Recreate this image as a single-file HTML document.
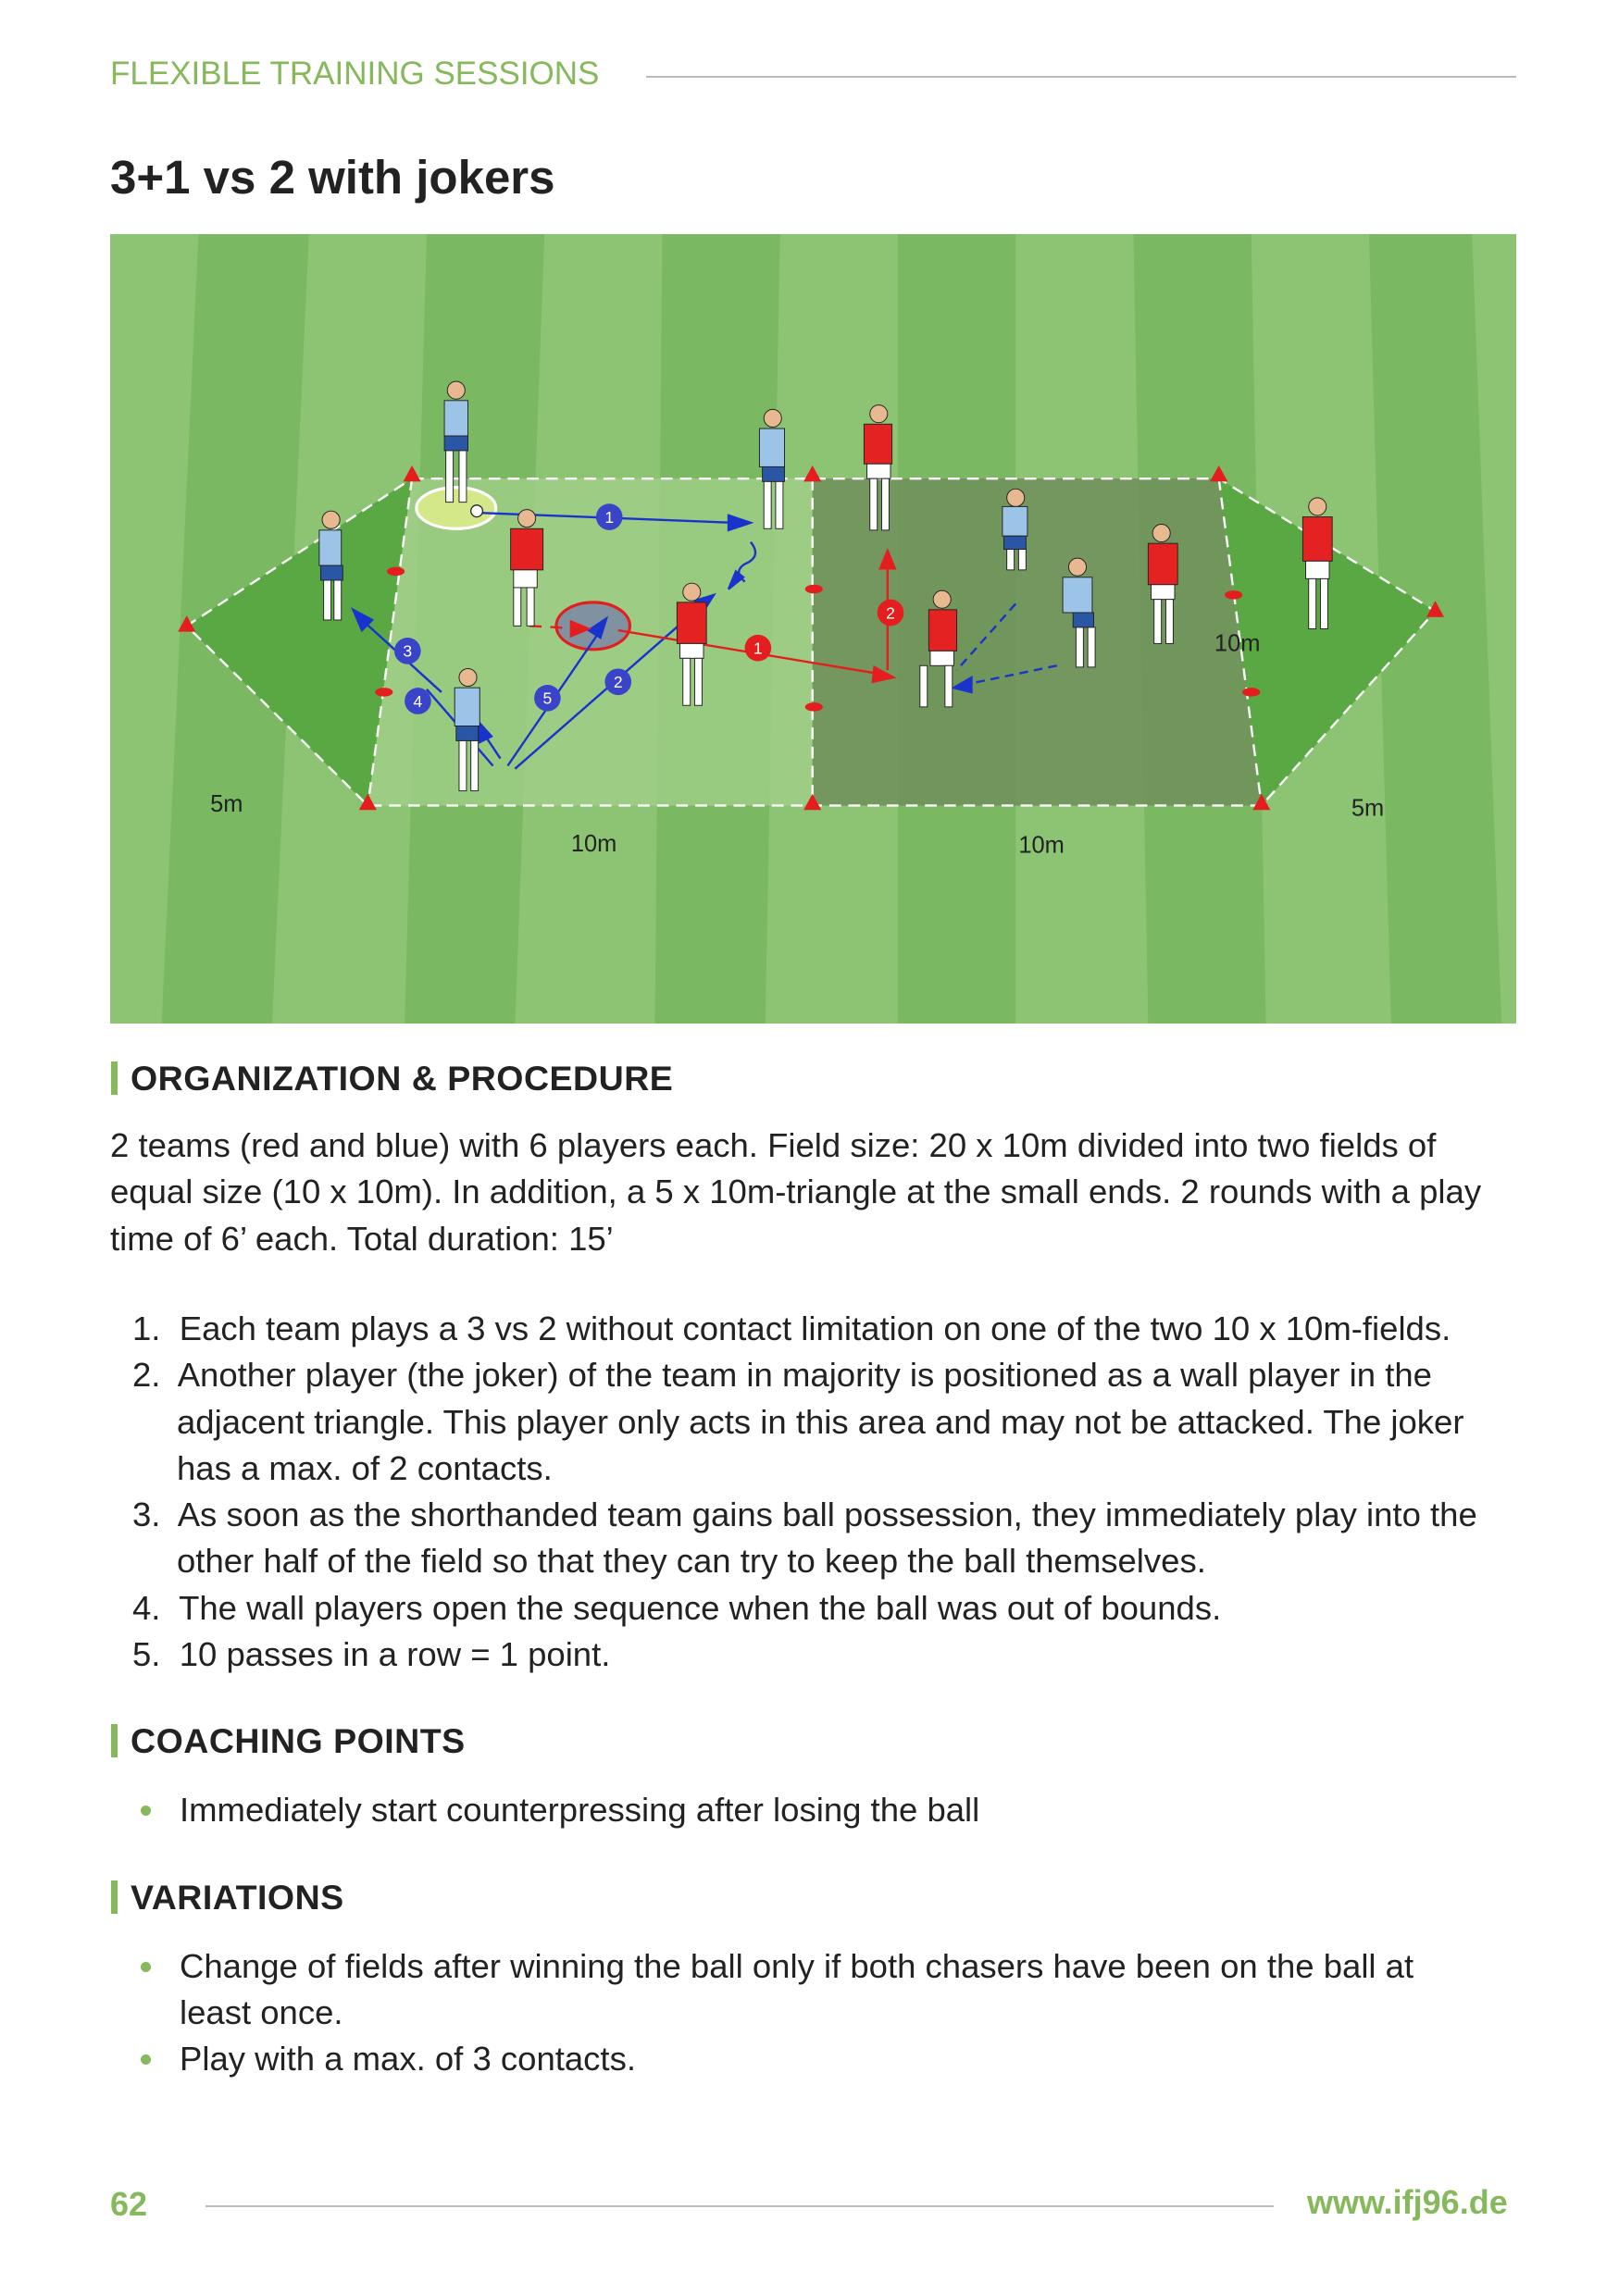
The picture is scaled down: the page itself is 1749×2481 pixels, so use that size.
<!DOCTYPE html>
<html><head><meta charset="utf-8"><style>
body{margin:0;background:#fff;width:1749px;height:2481px;position:relative;font-family:"Liberation Sans",sans-serif;color:#222;overflow:hidden}
.a{position:absolute;white-space:nowrap}
.hd{color:#86b85c;font-size:37px;font-weight:bold}
.h2{font-size:37.5px;font-weight:bold;letter-spacing:0.5px;padding-left:14px;border-left:7px solid #86b85c;line-height:36px}
.p{font-size:36.5px;line-height:50.3px}
.dot{display:inline-block;width:11px;height:11px;border-radius:50%;background:#86b85c;position:absolute;left:-42px;top:20px}
</style></head><body>
<div class="a hd" style="left:119px;top:60px;font-weight:normal;font-size:35px">FLEXIBLE TRAINING SESSIONS</div>
<div class="a" style="left:698px;top:82px;width:940px;height:2px;background:#bbb"></div>
<div class="a" style="left:119px;top:162px;font-size:51px;font-weight:bold">3+1 vs 2 with jokers</div>

<svg class="a" style="left:119px;top:253px" width="1519" height="853" viewBox="75 159 955 536" preserveAspectRatio="none">
<rect x="75" y="159" width="955" height="536" fill="#7ab862"/>
<g fill="#8cc473">
<polygon points="75,159 135,159 110,695 75,695"/>
<polygon points="210,159 290,159 275,695 185,695"/>
<polygon points="370,159 450,159 445,695 350,695"/>
<polygon points="530,159 610,159 610,695 520,695"/>
<polygon points="690,159 770,159 780,695 690,695"/>
<polygon points="850,159 930,159 945,695 860,695"/>
<polygon points="1000,159 1030,159 1030,695 1020,695"/>
</g>
<polygon points="280,325 552,325 552,547 250,547" fill="#a3d08a" opacity="0.75"/>
<polygon points="552,325 828,325 857,547 552,547" fill="#6f8f5c" opacity="0.85"/>
<polygon points="280,325 127,425 250,547" fill="#5aa843"/>
<polygon points="828,325 975,415 857,547" fill="#5aa843"/>
<g fill="none" stroke="#fff" stroke-width="1.5" stroke-dasharray="8,5">
<polygon points="280,325 828,325 975,415 857,547 250,547 127,425"/>
<line x1="280" y1="325" x2="250" y2="547"/><line x1="552" y1="325" x2="552" y2="547"/><line x1="828" y1="325" x2="857" y2="547"/>
</g>
<g fill="#e41e1e">
<polygon points="280,316 274,327 286,327"/><polygon points="552,316 546,327 558,327"/><polygon points="828,316 822,327 834,327"/>
<polygon points="127,418 121,429 133,429"/><polygon points="975,408 969,419 981,419"/>
<polygon points="250,539 244,550 256,550"/><polygon points="552,539 546,550 558,550"/><polygon points="857,539 851,550 863,550"/>
<ellipse cx="269" cy="388" rx="6" ry="3"/><ellipse cx="261" cy="470" rx="6" ry="3"/><ellipse cx="553" cy="400" rx="6" ry="3"/><ellipse cx="553" cy="480" rx="6" ry="3"/><ellipse cx="838" cy="404" rx="6" ry="3"/><ellipse cx="850" cy="470" rx="6" ry="3"/>
</g>
<ellipse cx="310" cy="345" rx="27" ry="14" fill="#d4e88a" stroke="#fff" stroke-width="2"/>
<ellipse cx="403" cy="425" rx="25" ry="16" fill="#8092a0" stroke="#e41e1e" stroke-width="2"/>
<g stroke="#1a33cc" stroke-width="1.5" fill="#1a33cc">
<line x1="320" y1="348" x2="500" y2="355"/><polygon points="510,355 495,350 495,360"/>
<line x1="345" y1="520" x2="410" y2="425"/><polygon points="412,420 400,428 408,433"/>
<line x1="350" y1="522" x2="478" y2="410"/><polygon points="485,404 472,408 478,415"/>
<line x1="300" y1="470" x2="245" y2="420"/><polygon points="240,414 246,428 253,421"/>
<line x1="335" y1="520" x2="290" y2="468"/>
<line x1="340" y1="515" x2="330" y2="500"/><polygon points="325,490 326,504 334,500"/>
<line x1="718" y1="452" x2="655" y2="465" stroke-dasharray="6,4"/><polygon points="648,467 660,460 660,470"/>
<line x1="690" y1="410" x2="650" y2="455" stroke-dasharray="6,4"/>
<path d="M510 368 q8 10 -4 15 q-8 5 0 12" fill="none"/><polygon points="495,400 500,388 505,392"/>
</g>
<g stroke="#e41e1e" stroke-width="1.5" fill="#e41e1e">
<line x1="420" y1="428" x2="600" y2="458"/><polygon points="607,460 594,453 593,463"/>
<line x1="360" y1="425" x2="395" y2="427" stroke-dasharray="8,6"/><polygon points="400,427 388,422 388,432"/>
<line x1="603" y1="455" x2="603" y2="382"/><polygon points="603,374 598,386 608,386"/>
</g>
<g font-family="Liberation Sans" font-size="11" fill="#fff" text-anchor="middle">
<circle cx="414" cy="351" r="9" fill="#3a44c8"/><text x="414" y="355">1</text>
<circle cx="277" cy="442" r="9" fill="#3a44c8"/><text x="277" y="446">3</text>
<circle cx="284" cy="476" r="9" fill="#3a44c8"/><text x="284" y="480">4</text>
<circle cx="372" cy="474" r="9" fill="#3a44c8"/><text x="372" y="478">5</text>
<circle cx="420" cy="463" r="9" fill="#3a44c8"/><text x="420" y="467">2</text>
<circle cx="515" cy="440" r="9" fill="#e41e1e"/><text x="515" y="444">1</text>
<circle cx="605" cy="416" r="9" fill="#e41e1e"/><text x="605" y="420">2</text>
</g>
<g font-family="Liberation Sans" font-size="16" fill="#222">
<text x="143" y="551">5m</text><text x="918" y="554">5m</text><text x="388" y="578">10m</text><text x="692" y="579">10m</text><text x="825" y="442">10m</text>
</g>
<g stroke="#222" stroke-width="0.6">
<g transform="translate(310,345)"><circle cx="0" cy="-80" r="6" fill="#e8b890"/><rect x="-8" y="-73" width="16" height="24" fill="#9cc4e6"/><rect x="-8" y="-49" width="16" height="10" fill="#2a56a6"/><rect x="-7" y="-39" width="5" height="35" fill="#fff"/><rect x="2" y="-39" width="5" height="35" fill="#fff"/></g>
<g transform="translate(225,423)"><circle cx="0" cy="-70" r="6" fill="#e8b890"/><rect x="-8" y="-63" width="15" height="24" fill="#9cc4e6"/><rect x="-7" y="-39" width="15" height="10" fill="#2a56a6"/><rect x="-5" y="-29" width="5" height="27" fill="#fff"/><rect x="2" y="-29" width="5" height="27" fill="#fff"/></g>
<g transform="translate(525,362)"><circle cx="0" cy="-78" r="6" fill="#e8b890"/><rect x="-9" y="-71" width="17" height="26" fill="#9cc4e6"/><rect x="-7" y="-45" width="15" height="10" fill="#2a56a6"/><rect x="-6" y="-35" width="5" height="32" fill="#fff"/><rect x="2" y="-35" width="5" height="32" fill="#fff"/></g>
<g transform="translate(690,388)"><circle cx="0" cy="-50" r="6" fill="#e8b890"/><rect x="-9" y="-44" width="17" height="20" fill="#9cc4e6"/><rect x="-8" y="-24" width="15" height="9" fill="#2a56a6"/><rect x="-6" y="-15" width="5" height="14" fill="#fff"/><rect x="2" y="-15" width="5" height="14" fill="#fff"/></g>
<g transform="translate(737,455)"><circle cx="-5" cy="-70" r="6" fill="#e8b890"/><rect x="-15" y="-63" width="20" height="24" fill="#9cc4e6"/><rect x="-8" y="-39" width="14" height="10" fill="#2a56a6"/><rect x="-6" y="-29" width="5" height="27" fill="#fff"/><rect x="2" y="-29" width="5" height="27" fill="#fff"/></g>
<g transform="translate(318,540)"><circle cx="0" cy="-80" r="6" fill="#e8b890"/><rect x="-9" y="-73" width="17" height="26" fill="#9cc4e6"/><rect x="-8" y="-47" width="15" height="10" fill="#2a56a6"/><rect x="-6" y="-37" width="5" height="34" fill="#fff"/><rect x="2" y="-37" width="5" height="34" fill="#fff"/></g>
<g transform="translate(597,363)"><circle cx="0" cy="-82" r="6" fill="#e8b890"/><rect x="-10" y="-75" width="19" height="27" fill="#e52222"/><rect x="-8" y="-48" width="16" height="10" fill="#fff"/><rect x="-6" y="-38" width="5" height="35" fill="#fff"/><rect x="2" y="-38" width="5" height="35" fill="#fff"/></g>
<g transform="translate(355,430)"><circle cx="3" cy="-78" r="6" fill="#e8b890"/><rect x="-8" y="-71" width="22" height="28" fill="#e52222"/><rect x="-6" y="-43" width="16" height="12" fill="#fff"/><rect x="-6" y="-31" width="5" height="26" fill="#fff"/><rect x="3" y="-31" width="5" height="26" fill="#fff"/></g>
<g transform="translate(470,482)"><circle cx="0" cy="-80" r="6" fill="#e8b890"/><rect x="-10" y="-73" width="20" height="28" fill="#e52222"/><rect x="-8" y="-45" width="16" height="10" fill="#fff"/><rect x="-6" y="-35" width="5" height="32" fill="#fff"/><rect x="2" y="-35" width="5" height="32" fill="#fff"/></g>
<g transform="translate(637,485)"><circle cx="3" cy="-78" r="6" fill="#e8b890"/><rect x="-6" y="-71" width="19" height="28" fill="#e52222"/><rect x="-5" y="-43" width="16" height="10" fill="#fff"/><rect x="-12" y="-33" width="5" height="28" fill="#fff"/><rect x="5" y="-33" width="5" height="28" fill="#fff"/></g>
<g transform="translate(792,440)"><circle cx="-3" cy="-78" r="6" fill="#e8b890"/><rect x="-12" y="-71" width="20" height="28" fill="#e52222"/><rect x="-10" y="-43" width="16" height="10" fill="#fff"/><rect x="-8" y="-33" width="5" height="30" fill="#fff"/><rect x="0" y="-33" width="5" height="30" fill="#fff"/></g>
<g transform="translate(895,430)"><circle cx="0" cy="-86" r="6" fill="#e8b890"/><rect x="-10" y="-79" width="20" height="30" fill="#e52222"/><rect x="-8" y="-49" width="16" height="12" fill="#fff"/><rect x="-6" y="-37" width="5" height="34" fill="#fff"/><rect x="2" y="-37" width="5" height="34" fill="#fff"/></g>
</g>
<circle cx="324" cy="347" r="4" fill="#fff" stroke="#222" stroke-width="0.8"/>
</svg>

<div class="a h2" style="left:120px;top:1147px">ORGANIZATION &amp; PROCEDURE</div>
<div class="a p" style="left:119px;top:1213px">2 teams (red and blue) with 6 players each. Field size: 20 x 10m divided into two fields of<br>equal size (10 x 10m). In addition, a 5 x 10m-triangle at the small ends. 2 rounds with a play<br>time of 6’ each. Total duration: 15’</div>
<div class="a p" style="left:143px;top:1411px">1.&nbsp; Each team plays a 3 vs 2 without contact limitation on one of the two 10 x 10m-fields.<br>2.&nbsp; Another player (the joker) of the team in majority is positioned as a wall player in the<br><span style="padding-left:48px">adjacent triangle. This player only acts in this area and may not be attacked. The joker</span><br><span style="padding-left:48px">has a max. of 2 contacts.</span><br>3.&nbsp; As soon as the shorthanded team gains ball possession, they immediately play into the<br><span style="padding-left:48px">other half of the field so that they can try to keep the ball themselves.</span><br>4.&nbsp; The wall players open the sequence when the ball was out of bounds.<br>5.&nbsp; 10 passes in a row = 1 point.</div>

<div class="a h2" style="left:120px;top:1863px">COACHING POINTS</div>
<div class="a p" style="left:194px;top:1931px"><span class="dot"></span>Immediately start counterpressing after losing the ball</div>

<div class="a h2" style="left:120px;top:2032px">VARIATIONS</div>
<div class="a p" style="left:194px;top:2100px"><span class="dot"></span>Change of fields after winning the ball only if both chasers have been on the ball at<br>least once.</div>
<div class="a p" style="left:194px;top:2200px"><span class="dot"></span>Play with a max. of 3 contacts.</div>

<div class="a hd" style="left:119px;top:2361px;font-size:36px">62</div>
<div class="a" style="left:222px;top:2383px;width:1154px;height:2px;background:#bbb"></div>
<div class="a hd" style="left:1412px;top:2359px;font-size:36px">www.ifj96.de</div>
</body></html>
